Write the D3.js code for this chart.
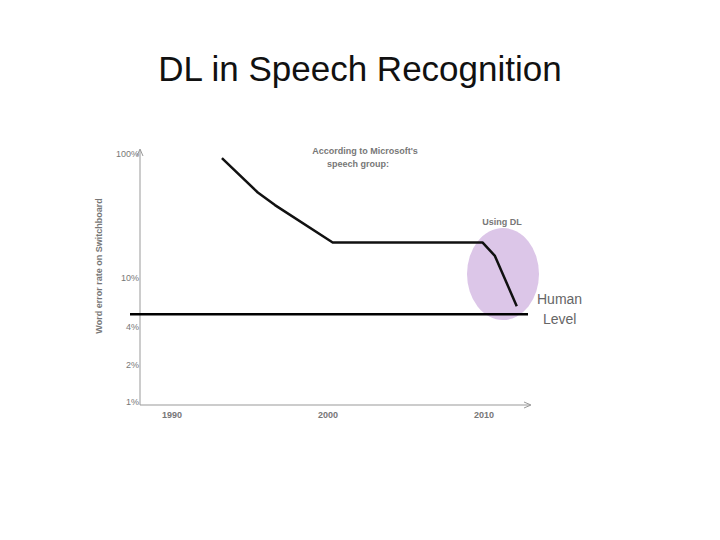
<!DOCTYPE html>
<html><head><meta charset="utf-8">
<script src="https://cdn.jsdelivr.net/npm/d3@7"></script>
<style>body{margin:0;background:#fff}text{font-family:"Liberation Sans",Arial,sans-serif}</style>
</head><body>
<svg id="chart" width="720" height="540"></svg>
<script>
const years = [1993.2, 1995.5, 1996.6, 2000.3, 2009.9, 2010.7, 2012.1];
const errorRates = [91, 48, 38, 19, 19, 14.8, 5.8];
const humanLevel = 5.0;
const yTicks = [100, 10, 4, 2, 1];
const xTicks = [1990, 2000, 2010];

const svg = d3.select("#chart");
const x = d3.scaleLinear().domain([1990, 2010]).range([172, 484]);
const y = d3.scaleLog().domain([1, 100]).range([401, 153]);

svg.append("text").attr("x", 360).attr("y", 81).attr("text-anchor", "middle")
  .attr("font-family", "'Open Sans',sans-serif").attr("font-size", 35).attr("fill", "#111")
  .text("DL in Speech Recognition");

// highlight ellipse
svg.append("ellipse").attr("cx", 503).attr("cy", 274).attr("rx", 36).attr("ry", 46)
  .attr("fill", "#dcc6e8");

// axes
const axCol = "#999";
svg.append("line").attr("x1", 140).attr("x2", 140).attr("y1", 150).attr("y2", 405).attr("stroke", axCol);
svg.append("line").attr("x1", 140).attr("x2", 530).attr("y1", 405).attr("y2", 405).attr("stroke", axCol);
svg.append("path").attr("d", "M137,156 L140,149 L143,156").attr("fill", "none").attr("stroke", axCol);
svg.append("path").attr("d", "M524,402 L531,405 L524,408").attr("fill", "none").attr("stroke", axCol);

svg.selectAll(".yt").data(yTicks).join("text")
  .attr("x", 139).attr("y", d => y(d) + 4).attr("text-anchor", "end")
  .attr("font-size", 9).attr("fill", "#777").text(d => d + "%");
svg.selectAll(".xt").data(xTicks).join("text")
  .attr("x", d => x(d)).attr("y", 418).attr("text-anchor", "middle")
  .attr("font-size", 9).attr("font-weight", "bold").attr("fill", "#777").text(d => d);

svg.append("text").attr("transform", "translate(102,266) rotate(-90)").attr("text-anchor", "middle")
  .attr("font-size", 9).attr("font-weight", "bold").attr("fill", "#777")
  .text("Word error rate on Switchboard");

svg.append("text").attr("x", 365).attr("y", 154).attr("text-anchor", "middle")
  .attr("font-size", 9).attr("font-weight", "bold").attr("fill", "#777")
  .selectAll("tspan").data(["According to Microsoft's", "speech group:"]).join("tspan")
  .attr("x", (d, i) => i ? 358 : 365).attr("dy", (d, i) => i ? 13 : 0).text(d => d);
svg.append("text").attr("x", 502).attr("y", 225).attr("text-anchor", "middle")
  .attr("font-size", 9).attr("font-weight", "bold").attr("fill", "#777").text("Using DL");

// human level
svg.append("line").attr("x1", 130).attr("x2", 528).attr("y1", y(humanLevel)).attr("y2", y(humanLevel))
  .attr("stroke", "#000").attr("stroke-width", 2.5);
svg.append("text").attr("x", 537).attr("y", 304).attr("font-size", 14).attr("fill", "#666").text("Human");
svg.append("text").attr("x", 543).attr("y", 324).attr("font-size", 14).attr("fill", "#666").text("Level");

// error line
svg.append("path").datum(years.map((d, i) => [d, errorRates[i]]))
  .attr("d", d3.line().x(d => x(d[0])).y(d => y(d[1])))
  .attr("fill", "none").attr("stroke", "#111").attr("stroke-width", 2.5).attr("stroke-linejoin", "round");
</script>
</body></html>
